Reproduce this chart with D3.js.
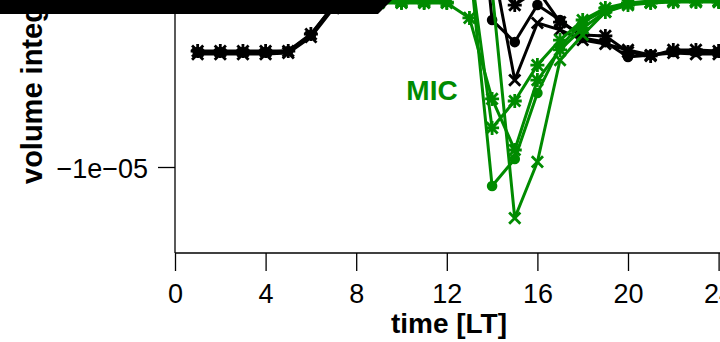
<!DOCTYPE html>
<html><head><meta charset="utf-8">
<script src="https://cdn.jsdelivr.net/npm/d3@7"></script>
<style>html,body{margin:0;padding:0;background:#fff;}svg{display:block;}</style>
</head><body>
<svg id="c" width="720" height="342"></svg>
<script>
// data (values in units of 1e-06)
const hours = [1,2,3,4,5,6,7,8,9,10,11,12,13,14,15,16,17,18,19,20,21,22,23,24];
const xTicks = [0,4,8,12,16,20,24];
const yTicks = [-1e-05];
const yTickLabels = ["\u22121e\u221205"];
const blackCircle = [-3.85,-3.85,-3.85,-3.85,-3.80,-2.94,-1.34,6.95,9.63,10.70,10.70,10.70,9.63,-2.14,-3.32,-1.34,-2.14,-3.10,-3.32,-4.12,-4.01,-3.85,-3.85,-3.85];
const blackCross  = [-3.96,-3.96,-3.96,-3.96,-3.90,-3.05,-1.50,6.95,9.63,10.70,10.70,10.70,9.63,1.07,-5.35,-2.30,-2.67,-3.21,-3.42,-3.74,-4.01,-3.90,-3.96,-3.96];
const blackStar   = [-3.80,-3.80,-3.80,-3.80,-3.80,-2.89,-1.39,6.95,9.63,10.70,10.70,10.70,9.63,0.53,-1.34,-0.53,-2.25,-2.94,-2.99,-3.85,-4.06,-3.74,-3.74,-3.80];
const greenCircle = [-1.18,-1.18,-1.18,-1.18,-1.18,-1.18,-1.18,-1.18,-1.18,-1.18,-1.18,-1.18,1.07,-11.02,-9.57,-6.04,-3.58,-2.25,-1.60,-1.23,-1.12,-1.07,-1.07,-1.07];
const greenCross  = [-1.12,-1.12,-1.12,-1.12,-1.12,-1.12,-1.12,-1.12,-1.12,-1.12,-1.12,-1.12,2.14,-0.53,-12.73,-9.73,-4.28,-2.94,-1.71,-1.28,-1.18,-1.12,-1.12,-1.12];
const greenStarA  = [-1.23,-1.23,-1.23,-1.23,-1.23,-1.23,-1.23,-1.23,-1.23,-1.23,-1.23,-1.23,-2.03,-6.36,-9.09,-5.35,-3.74,-2.57,-1.71,-1.34,-1.23,-1.18,-1.18,-1.18];
const greenStarB  = [-1.18,-1.18,-1.18,-1.18,-1.18,-1.18,-1.18,-1.18,-1.18,-1.18,-1.18,-1.18,1.07,-7.91,-6.47,-4.55,-3.21,-2.14,-1.50,-1.23,-1.18,-1.12,-1.12,-1.12];

const BLACK = "#000", GREEN = "#008B00";
const seriesList = [
  {vals: blackCircle, color: BLACK, pch: "circle"},
  {vals: blackCross,  color: BLACK, pch: "cross"},
  {vals: blackStar,   color: BLACK, pch: "star"},
  {vals: greenCircle, color: GREEN, pch: "circle"},
  {vals: greenCross,  color: GREEN, pch: "cross"},
  {vals: greenStarA,  color: GREEN, pch: "star"},
  {vals: greenStarB,  color: GREEN, pch: "star"}
];

const svg = d3.select("#c");
const x = d3.scaleLinear().domain([0,24]).range([175,718.6]);
const y = d3.scaleLinear().domain([-1e-05,0]).range([167,-20]);
const FONT = "'Liberation Sans', Arial, Helvetica, sans-serif";

svg.append("defs").append("clipPath").attr("id","clip")
  .append("rect").attr("x",0).attr("y",0).attr("width",720).attr("height",342);

// x axis
const xAxis = d3.axisBottom(x).tickValues(xTicks).tickSize(18).tickPadding(13).tickFormat(d3.format("d"));
const gx = svg.append("g").attr("transform","translate(0,253)").call(xAxis);
gx.select(".domain").attr("d","M175,0H720").attr("stroke","#000").attr("stroke-width",1.3);
gx.selectAll(".tick line").attr("stroke","#000").attr("stroke-width",1.3);
gx.selectAll(".tick text").attr("font-family",FONT).attr("font-size",27).attr("fill","#000");

// y axis
const yAxis = d3.axisLeft(y).tickValues(yTicks).tickSize(17).tickPadding(10).tickFormat((d,i)=>yTickLabels[i]);
const gy = svg.append("g").attr("transform","translate(175,0)").call(yAxis);
gy.select(".domain").attr("d","M0,0V253").attr("stroke","#000").attr("stroke-width",1.3);
gy.selectAll(".tick line").attr("stroke","#000").attr("stroke-width",1.3);
gy.selectAll(".tick text").attr("font-family",FONT).attr("font-size",27).attr("fill","#000").attr("dy","0.4em");

// axis titles
svg.append("text").attr("x",449).attr("y",333).attr("text-anchor","middle")
  .attr("font-family",FONT).attr("font-size",28).attr("font-weight","bold").text("time [LT]");
svg.append("text").attr("transform","translate(42,184) rotate(-90)").attr("text-anchor","start")
  .attr("font-family",FONT).attr("font-size",29).attr("font-weight","bold").text("volume integrated");

// series
const plot = svg.append("g").attr("clip-path","url(#clip)");
const line = d3.line().x((d,i)=>x(hours[i])).y(d=>y(d*1e-06));
function marker(g, px, py, type, color){
  if(type==="circle"){
    g.append("circle").attr("cx",px).attr("cy",py).attr("r",5.3).attr("fill",color);
  } else {
    const s = 5.6;
    const p = d3.path();
    p.moveTo(px-s,py-s); p.lineTo(px+s,py+s);
    p.moveTo(px-s,py+s); p.lineTo(px+s,py-s);
    if(type==="star"){
      const t = 7;
      p.moveTo(px-t,py); p.lineTo(px+t,py);
      p.moveTo(px,py-t); p.lineTo(px,py+t);
    }
    g.append("path").attr("d",p.toString()).attr("stroke",color).attr("stroke-width",2.8).attr("fill","none");
  }
}
seriesList.forEach(s=>{
  const g = plot.append("g");
  g.append("path").datum(s.vals).attr("d",line).attr("fill","none")
    .attr("stroke",s.color).attr("stroke-width",3).attr("stroke-linejoin","round");
  s.vals.forEach((v,i)=>marker(g, x(hours[i]), y(v*1e-06), s.pch, s.color));
});

// label
svg.append("text").attr("x",432).attr("y",100).attr("text-anchor","middle")
  .attr("font-family",FONT).attr("font-size",28).attr("font-weight","bold").attr("fill",GREEN).text("MIC");

// dark band at the top (clipped element)
svg.append("path").attr("d","M0,0H392L378,14H0Z").attr("fill","#000");
</script>
</body></html>
